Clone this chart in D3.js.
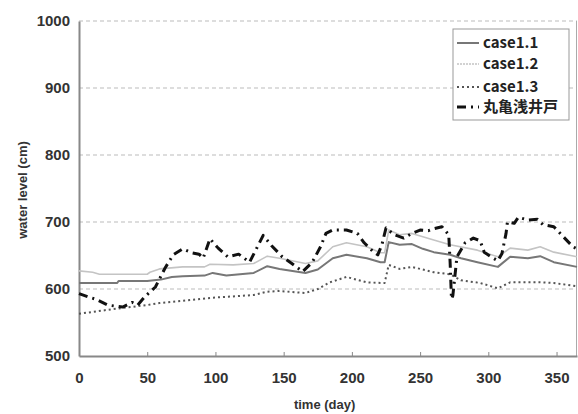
<!DOCTYPE html>
<html>
<head>
<meta charset="utf-8">
<script src="https://cdn.jsdelivr.net/npm/d3@7"></script>
<style>
  html, body { margin: 0; padding: 0; background: #fff; }
  svg { display: block; }
  .tick text { font-family: "Liberation Sans", Arial, sans-serif; font-weight: bold; fill: #333; }
</style>
</head>
<body>
<svg id="chart" width="578" height="414"></svg>
<script>
// Simulated and observed groundwater level (cm) by day of year
const case11 = [[0,609],[28,609],[29,612],[50,612],[60,614],[68,618],[76,619],[92,620],[98,624],[108,620],[128,624],[138,634],[147,630],[166,624],[175,629],[186,646],[196,651],[211,646],[221,640],[224,640],[227,670],[235,666],[244,667],[252,660],[260,655],[272,651],[280,646],[292,640],[307,633],[316,648],[329,646],[338,649],[348,640],[365,633]];
const case12 = [[0,627],[10,625],[15,622],[50,622],[52,625],[59,630],[76,633],[92,633],[96,637],[113,636],[128,638],[138,649],[147,646],[166,638],[175,642],[186,663],[196,669],[211,663],[221,654],[224,654],[227,688],[235,681],[244,683],[260,673],[272,666],[292,658],[307,648],[316,661],[329,658],[338,663],[348,655],[365,648]];
const case13 = [[0,563],[25,570],[50,576],[59,579],[98,587],[128,591],[138,596],[147,597],[166,594],[175,600],[184,610],[196,618],[211,610],[221,609],[224,609],[227,636],[235,630],[244,633],[260,625],[272,622],[280,613],[294,609],[307,601],[316,610],[338,610],[348,609],[365,604]];
const observed = [[0,593],[7,588],[12,585],[21,576],[32,573],[39,580],[43,576],[48,588],[56,603],[63,631],[69,651],[76,660],[83,654],[88,652],[91,646],[96,675],[102,661],[109,648],[117,652],[125,640],[135,680],[141,665],[149,648],[156,638],[164,626],[171,640],[177,663],[181,683],[186,688],[196,688],[204,683],[209,669],[216,655],[219,651],[222,666],[225,691],[231,681],[238,676],[244,683],[250,688],[256,687],[260,690],[266,693],[271,681],[272,640],[273,585],[274,590],[277,648],[283,669],[289,676],[294,672],[297,655],[302,648],[307,642],[310,653],[313,683],[314,700],[319,698],[322,707],[329,703],[336,704],[340,696],[348,693],[355,678],[362,663],[365,660]];

const xTicks = [0, 50, 100, 150, 200, 250, 300, 350];
const yTicks = [500, 600, 700, 800, 900, 1000];
const seriesNames = ["case1.1", "case1.2", "case1.3", "丸亀浅井戸"];

const svg = d3.select("#chart");
const margin = { top: 21, right: 1, bottom: 58, left: 79 };
const W = 578, H = 414;
const iw = W - margin.left - margin.right;
const ih = H - margin.top - margin.bottom;

const x = d3.scaleLinear().domain([0, 365]).range([0, iw]);
const y = d3.scaleLinear().domain([500, 1000]).range([ih, 0]);

const g = svg.append("g").attr("transform", `translate(${margin.left},${margin.top})`);

// dashed horizontal grid
g.append("g").selectAll("line")
  .data(yTicks.filter(t => t > 500))
  .join("line")
  .attr("x1", 0).attr("x2", iw)
  .attr("y1", d => y(d)).attr("y2", d => y(d))
  .attr("stroke", "#bbb").attr("stroke-width", 1)
  .attr("stroke-dasharray", "4,3");

// right frame edge
g.append("line").attr("x1", iw - 0.5).attr("x2", iw - 0.5).attr("y1", 0).attr("y2", ih)
  .attr("stroke", "#aaa").attr("stroke-width", 1);

// axes
const xAxis = g.append("g").attr("transform", `translate(0,${ih})`)
  .call(d3.axisBottom(x).tickValues(xTicks).tickFormat(d3.format("d"))
    .tickSizeInner(-4).tickSizeOuter(0).tickPadding(16));
const yAxis = g.append("g")
  .call(d3.axisLeft(y).tickValues(yTicks).tickFormat(d3.format("d"))
    .tickSizeInner(0).tickSizeOuter(0).tickPadding(9));
[xAxis, yAxis].forEach(a => {
  a.select(".domain").attr("stroke", "#888").attr("stroke-width", 2);
  a.selectAll(".tick line").attr("stroke", "#888");
  a.selectAll(".tick text").attr("font-size", 15);
});

const line = d3.line().x(d => x(d[0])).y(d => y(d[1]));

const styles = [
  { data: case11,   stroke: "#777", width: 2,   dash: null },
  { data: case12,   stroke: "#c4c4c4", width: 1.6, dash: null },
  { data: case13,   stroke: "#555", width: 2,   dash: "2,3" },
  { data: observed, stroke: "#111", width: 3,   dash: "9,5,2,5" }
];

styles.forEach(s => {
  g.append("path").datum(s.data)
    .attr("d", line)
    .attr("fill", "none")
    .attr("stroke", s.stroke)
    .attr("stroke-width", s.width)
    .attr("stroke-dasharray", s.dash)
    .attr("stroke-linejoin", "round");
});

// axis titles
svg.append("text")
  .attr("x", margin.left + x(180)).attr("y", 409)
  .attr("text-anchor", "middle")
  .attr("font-family", "Liberation Sans, Arial, sans-serif")
  .attr("font-weight", "bold").attr("font-size", 13).attr("fill", "#333")
  .text("time (day)");
svg.append("text")
  .attr("transform", "translate(27,190) rotate(-90)")
  .attr("text-anchor", "middle")
  .attr("font-family", "Liberation Sans, Arial, sans-serif")
  .attr("font-weight", "bold").attr("font-size", 13).attr("fill", "#333")
  .text("water level (cm)");

// legend
const lg = svg.append("g").attr("transform", "translate(453,29)");
lg.append("rect").attr("width", 116).attr("height", 91)
  .attr("fill", "#fff").attr("stroke", "#999").attr("stroke-width", 1);
const rowY = [14, 35, 58, 78];
seriesNames.forEach((name, i) => {
  const s = styles[i];
  lg.append("line")
    .attr("x1", 4).attr("x2", 26).attr("y1", rowY[i]).attr("y2", rowY[i])
    .attr("stroke", s.stroke).attr("stroke-width", s.width)
    .attr("stroke-dasharray", i === 1 ? "2,1" : s.dash);
  lg.append("text")
    .attr("x", 30).attr("y", rowY[i]).attr("dy", "0.36em")
    .attr("font-family", "Noto Sans CJK JP, sans-serif")
    .attr("font-weight", "bold").attr("font-size", 15).attr("fill", "#222")
    .text(name);
});
</script>
</body>
</html>
